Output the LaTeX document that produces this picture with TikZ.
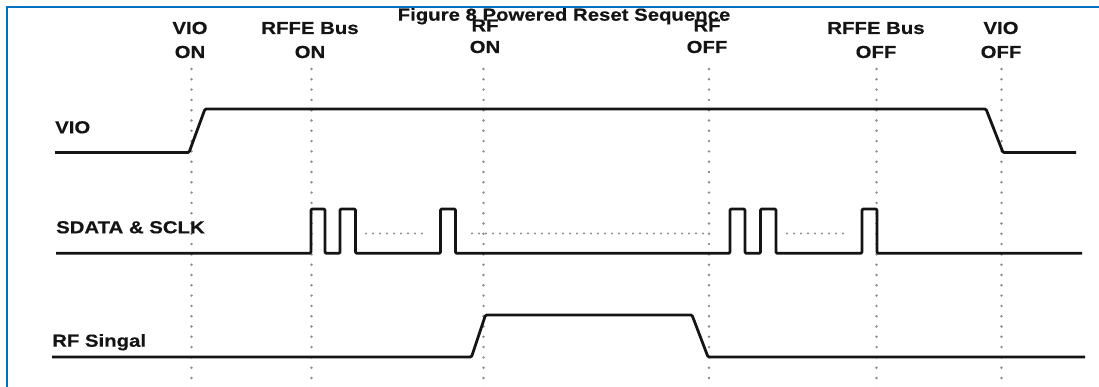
\documentclass[tikz,border=0pt]{standalone}
\usepackage{fontspec}
\setmainfont{Liberation Sans}
\newfontfamily\labfont[FakeStretch=1.17,FakeBold=0.4]{Liberation Sans}
\definecolor{frameblue}{RGB}{0,112,192}
\definecolor{ink}{RGB}{20,20,20}
\definecolor{dotgray}{RGB}{140,140,140}
\begin{document}
\begin{tikzpicture}[x=1pt,y=-1pt,
  lab/.style={font=\labfont\bfseries\fontsize{17.4}{18}\selectfont, inner sep=0pt, anchor=base, text=ink},
  sig/.style={draw=ink, line width=2.8pt, line join=round, rounded corners=1.2pt},
  guide/.style={draw=dotgray, line width=2.7pt, dash pattern=on 0pt off 10.3pt, line cap=round},
  hdots/.style={draw=dotgray, line width=2.4pt, dash pattern=on 0pt off 7pt, line cap=round},
  frame/.style={draw=frameblue, line width=2pt}]
\useasboundingbox (0,0) rectangle (1099,387);
\fill[white] (0,0) rectangle (1099,387);
% frame
\coordinate (fb) at (7,392);
\coordinate (fr) at (1104,7);
\draw[frame] (fb) |- (fr);
% guide lines
\foreach \n/\x in {g1/191.5, g2/311.5, g3/483.5, g4/709, g5/876.5, g6/1001.5}{
  \coordinate (\n t) at (\x,69);
  \coordinate (\n b) at (\x,392);
  \draw[guide] (\n t) -- (\n b);
}
% title
\node[lab] (title) at (564,20.7) {Figure 8 Powered Reset Sequence};
% event labels
\node[lab] (vioon1) at (190,34) {VIO};
\node[lab] (vioon2) at (190,58) {ON};
\node[lab] (rffeon1) at (310,34) {RFFE Bus};
\node[lab] (rffeon2) at (310,58) {ON};
\node[lab] (rfon1) at (485,31.5) {RF};
\node[lab] (rfon2) at (485,53) {ON};
\node[lab] (rfoff1) at (707,31.5) {RF};
\node[lab] (rfoff2) at (707,53) {OFF};
\node[lab] (rffeoff1) at (876,34) {RFFE Bus};
\node[lab] (rffeoff2) at (876,58) {OFF};
\node[lab] (viooff1) at (1001,34) {VIO};
\node[lab] (viooff2) at (1001,58) {OFF};
% signal labels
\node[lab, anchor=base west] (lvio) at (55,133.3) {VIO};
\node[lab, anchor=base west] (lsd) at (56,233.3) {SDATA \& SCLK};
\node[lab, anchor=base west] (lrf) at (52,346.7) {RF Singal};
% VIO
\draw[sig] (55,152.5) -- (189,152.5) -- (205,109) -- (986,109) -- (1003,152.5) -- (1076,152.5);
% SDATA & SCLK
\draw[sig] (56,253.3) -| (311,209) -| (325,253.3) -| (340,209) -| (355.5,253.3)
  -| (440.5,209) -| (455.5,253.3) -| (730,209) -| (745,253.3) -| (760.5,209)
  -| (776,253.3) -| (862,209) -| (877,253.3) -- (1082,253.3);
\draw[hdots] (366,233.5) -- (424,233.5);
\draw[hdots] (472,233.5) -- (708,233.5);
\draw[hdots] (787,233.5) -- (846,233.5);
% RF signal
\draw[sig] (52,357) -- (471.5,357) -- (485.5,315) -- (692,315) -- (708,357) -- (1085,357);
\end{tikzpicture}
\end{document}
